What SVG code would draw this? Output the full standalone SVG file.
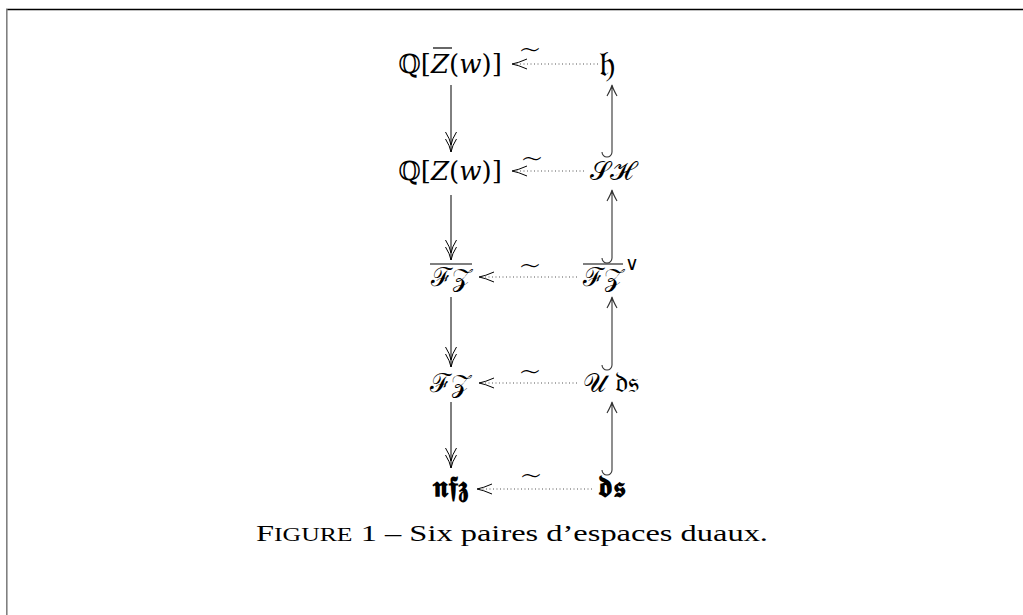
<svg xmlns="http://www.w3.org/2000/svg" width="1023" height="615" viewBox="0 0 1023 615">
<style>
.m{font-family:"DejaVu Serif","Liberation Serif",serif;font-size:26px;fill:#000;text-anchor:middle}
.i{font-style:italic}
.fk{font-size:29px}
.cap{font-family:"Liberation Serif","DejaVu Serif",serif;font-size:24px;fill:#000}
.tl{font-family:"DejaVu Sans",sans-serif;font-weight:200;font-size:28px;text-anchor:middle;fill:#000}
.ln{fill:none;stroke:#000;stroke-width:1}
.hk{fill:none;stroke:#333;stroke-width:1.1}
.dt{fill:none;stroke:#555;stroke-width:1;stroke-dasharray:1 2.5}
.ov{stroke:#000;stroke-width:1.2}
</style>
<rect x="0" y="0" width="1023" height="615" fill="#fff"/>
<line x1="6" y1="9.5" x2="1023" y2="9.5" stroke="#000" stroke-width="1.5"/>
<line x1="6.8" y1="9" x2="6.8" y2="615" stroke="#808080" stroke-width="1.6"/>

<g id="n-QZbar"><text class="m" x="450" y="73">ℚ[<tspan class="i">Z</tspan>(<tspan class="i">w</tspan>)]</text><line class="ov" x1="433" y1="48" x2="452" y2="48"/></g>
<g id="n-h"><text class="m" x="607" y="76" style="font-size:36px">𝔥</text></g>
<g id="n-SH"><text class="m" x="611" y="180">𝒮ℋ</text></g>
<g id="n-QZ"><text class="m" x="450" y="180">ℚ[<tspan class="i">Z</tspan>(<tspan class="i">w</tspan>)]</text></g>
<g id="n-FZbar"><text class="m" x="451" y="286">ℱ𝒵</text><line class="ov" x1="430" y1="264" x2="472" y2="264"/></g>
<g id="n-FZbardual"><text class="m" x="603" y="286">ℱ𝒵</text><line class="ov" x1="583" y1="264" x2="623" y2="264"/><text x="632" y="270" style="font-family:'DejaVu Serif',serif;font-size:19px;text-anchor:middle">∨</text></g>
<g id="n-FZ"><text class="m" x="450" y="392">ℱ𝒵</text></g>
<g id="n-Uds"><text class="m" x="611" y="392">𝒰 <tspan class="fk">𝔡𝔰</tspan></text></g>
<g id="n-nfz"><text class="m fk" x="450" y="497" font-weight="bold">𝖓𝖋𝖟</text></g>
<g id="n-ds"><text class="m fk" x="612" y="497" font-weight="bold">𝖉𝖘</text></g>

<g id="connectors">
<path class="ln" d="M451,85 V152 M445.5,139 Q450,146 451,152 Q452,146 456.5,139 M445.5,132 Q450,139 451,145 Q452,139 456.5,132"/>
<path class="ln" d="M451,195 V260 M445.5,247 Q450,254 451,260 Q452,254 456.5,247 M445.5,240 Q450,247 451,253 Q452,247 456.5,240"/>
<path class="ln" d="M451,297 V367 M445.5,354 Q450,361 451,367 Q452,361 456.5,354 M445.5,347 Q450,354 451,360 Q452,354 456.5,347"/>
<path class="ln" d="M451,402 V468 M445.5,455 Q450,462 451,468 Q452,462 456.5,455 M445.5,448 Q450,455 451,461 Q452,455 456.5,448"/>
<path class="hk" d="M612,152 V85 M607,96 Q611,89 612,85 Q613,89 617,96 M612,152 A5,5 0 0 1 602,152"/>
<path class="hk" d="M612,258 V190 M607,201 Q611,194 612,190 Q613,194 617,201 M612,258 A5,5 0 0 1 602,258"/>
<path class="hk" d="M612,365 V297 M607,308 Q611,301 612,297 Q613,301 617,308 M612,365 A5,5 0 0 1 602,365"/>
<path class="hk" d="M612,470 V402 M607,413 Q611,406 612,402 Q613,406 617,413 M612,470 A5,5 0 0 1 602,470"/>
<path class="dt" d="M598,64 H514"/><path class="ln" d="M527,59 Q518,63 512,64 Q518,65 527,69"/><text class="tl" x="530" y="59">~</text>
<path class="dt" d="M584,171 H514"/><path class="ln" d="M527,166 Q518,170 512,171 Q518,172 527,176"/><text class="tl" x="532" y="168">~</text>
<path class="dt" d="M577,277 H481"/><path class="ln" d="M494,272 Q485,276 479,277 Q485,278 494,282"/><text class="tl" x="530" y="275">~</text>
<path class="dt" d="M577,383 H481"/><path class="ln" d="M494,378 Q485,382 479,383 Q485,384 494,388"/><text class="tl" x="530" y="381">~</text>
<path class="dt" d="M592,489 H479"/><path class="ln" d="M492,484 Q483,488 477,489 Q483,490 492,494"/><text class="tl" x="531" y="485">~</text>
</g>

<text class="cap" x="256" y="541" textLength="512" lengthAdjust="spacingAndGlyphs">F<tspan style="font-size:19px">IGURE</tspan> 1 – Six paires d’espaces duaux.</text>
</svg>
